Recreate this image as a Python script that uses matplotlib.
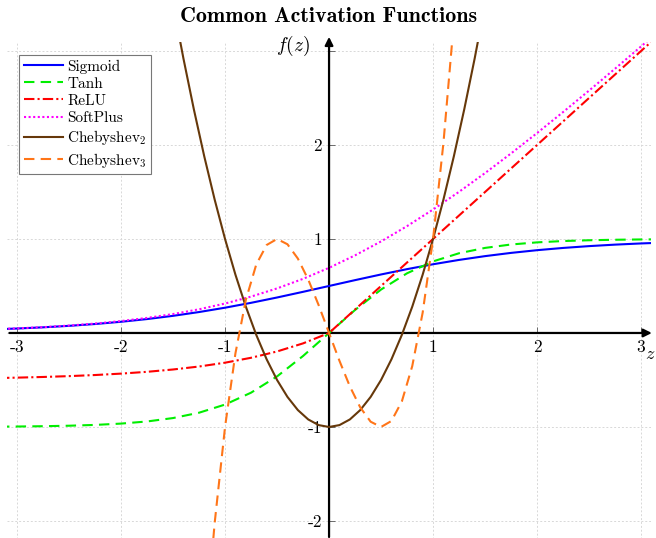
import matplotlib
matplotlib.use('Agg')
import matplotlib.pyplot as plt

plt.rcParams['font.family'] = 'serif'
plt.rcParams['font.serif'] = ['cmr10']
plt.rcParams['mathtext.fontset'] = 'cm'
plt.rcParams['axes.unicode_minus'] = False

# sample points for the smooth activations (step 0.25)
z = [-3.25, -3.0, -2.75, -2.5, -2.25, -2.0, -1.75, -1.5, -1.25, -1.0, -0.75, -0.5, -0.25,
     0.0, 0.25, 0.5, 0.75, 1.0, 1.25, 1.5, 1.75, 2.0, 2.25, 2.5, 2.75, 3.0, 3.25]
sigmoid = [0.0373, 0.0474, 0.0601, 0.0759, 0.0953, 0.1192, 0.1480, 0.1824, 0.2227, 0.2689,
           0.3208, 0.3775, 0.4378, 0.5, 0.5622, 0.6225, 0.6792, 0.7311, 0.7773, 0.8176,
           0.8520, 0.8808, 0.9047, 0.9241, 0.9399, 0.9526, 0.9627]
tanh = [-0.9970, -0.9951, -0.9918, -0.9866, -0.9780, -0.9640, -0.9414, -0.9051, -0.8483,
        -0.7616, -0.6351, -0.4621, -0.2449, 0.0, 0.2449, 0.4621, 0.6351, 0.7616, 0.8483,
        0.9051, 0.9414, 0.9640, 0.9780, 0.9866, 0.9918, 0.9951, 0.9970]
relu = [-0.4806, -0.4751, -0.4680, -0.4590, -0.4473, -0.4323, -0.4131, -0.3884, -0.3568,
        -0.3161, -0.2638, -0.1967, -0.1106, 0.0, 0.25, 0.5, 0.75, 1.0, 1.25, 1.5, 1.75,
        2.0, 2.25, 2.5, 2.75, 3.0, 3.25]
softplus = [0.0381, 0.0486, 0.0619, 0.0789, 0.1002, 0.1269, 0.1602, 0.2014, 0.2519, 0.3133,
            0.3869, 0.4741, 0.5759, 0.6931, 0.8259, 0.9741, 1.1369, 1.3133, 1.5019, 1.7014,
            1.9102, 2.1269, 2.3502, 2.5789, 2.8119, 3.0486, 3.2881]

# chebyshev polynomials, finer steps (0.1)
zc = [-1.5, -1.4, -1.3, -1.2, -1.1, -1.0, -0.9, -0.8, -0.7, -0.6, -0.5, -0.4, -0.3, -0.2, -0.1,
      0.0, 0.1, 0.2, 0.3, 0.4, 0.5, 0.6, 0.7, 0.8, 0.9, 1.0, 1.1, 1.2, 1.3, 1.4, 1.5]
cheb2 = [3.5, 2.92, 2.38, 1.88, 1.42, 1.0, 0.62, 0.28, -0.02, -0.28, -0.5, -0.68, -0.82, -0.92,
         -0.98, -1.0, -0.98, -0.92, -0.82, -0.68, -0.5, -0.28, -0.02, 0.28, 0.62, 1.0, 1.42,
         1.88, 2.38, 2.92, 3.5]
cheb3 = [-9.0, -6.776, -4.888, -3.312, -2.024, -1.0, -0.216, 0.352, 0.728, 0.936, 1.0, 0.944,
         0.792, 0.568, 0.296, 0.0, -0.296, -0.568, -0.792, -0.944, -1.0, -0.936, -0.728,
         -0.352, 0.216, 1.0, 2.024, 3.312, 4.888, 6.776, 9.0]

xticks = [-3, -2, -1, 0, 1, 2, 3]
yticks = [-2, -1, 0, 1, 2, 3]

fig = plt.figure(figsize=(6.56, 5.38), dpi=100)
ax = fig.add_axes([0.0101, -0.0033, 0.983, 0.926])

lw = 1.5
ax.plot(z, sigmoid, color='blue', lw=lw, label='Sigmoid', zorder=5)
ax.plot(z, tanh, color='#00ee00', lw=lw, ls=(0, (5, 3)), label='Tanh', zorder=5)
ax.plot(z, relu, color='red', lw=lw, ls=(0, (5, 1.5, 1, 1.5)), label='ReLU', zorder=5)
ax.plot(z, softplus, color='magenta', lw=lw, ls=(0, (1, 1.2)), label='SoftPlus', zorder=5)
ax.plot(zc, cheb2, color='#66380a', lw=lw, label='Chebyshev$_2$', zorder=5)
ax.plot(zc, cheb3, color='#ff7518', lw=lw, ls=(0, (5, 3)), label='Chebyshev$_3$', zorder=5)

ax.set_xlim(-3.1, 3.1)
ax.set_ylim(-2.2, 3.1)

ax.set_xticks(xticks)
ax.set_xticklabels(['-3', '-2', '-1', '', '1', '2', '3'])
ax.set_yticks(yticks)
ax.set_yticklabels(['-2', '-1', '', '1', '2', ''])
ax.grid(True, color='#d8d8d8', ls=(0, (2, 2)), lw=0.7)
ax.tick_params(direction='in', length=4, width=0.6, color='#555555', labelsize=12.5, pad=5)

ax.spines['top'].set_visible(False)
ax.spines['right'].set_visible(False)
ax.spines['left'].set_position(('data', 0))
ax.spines['bottom'].set_position(('data', 0))
ax.spines['left'].set_visible(False)
ax.spines['bottom'].set_visible(False)

# axis lines with arrows
ax.annotate('', xy=(3.13, 0), xytext=(-3.1, 0), annotation_clip=False,
            arrowprops=dict(arrowstyle='-|>', color='black', lw=1.6, mutation_scale=12), zorder=3)
ax.annotate('', xy=(0, 3.18), xytext=(0, -2.2), annotation_clip=False,
            arrowprops=dict(arrowstyle='-|>', color='black', lw=1.6, mutation_scale=12), zorder=3)
ax.text(-0.35, 3.05, '$f(z)$', fontsize=14, ha='center', va='center')
ax.text(3.09, -0.23, '$z$', fontsize=13, ha='center', va='center', clip_on=False)

ax.set_title('Common Activation Functions', fontfamily='cmb10', fontsize=15.8, pad=14)

leg = ax.legend(loc='upper left', bbox_to_anchor=(0.029, 0.898), bbox_transform=fig.transFigure,
                fontsize=11, fancybox=False, edgecolor='#777777', framealpha=1,
                handlelength=2.6, handletextpad=0.25, labelspacing=0.22, borderpad=0.3,
                borderaxespad=0)
leg.get_frame().set_linewidth(0.8)

fig.savefig('out.png', dpi=100)
